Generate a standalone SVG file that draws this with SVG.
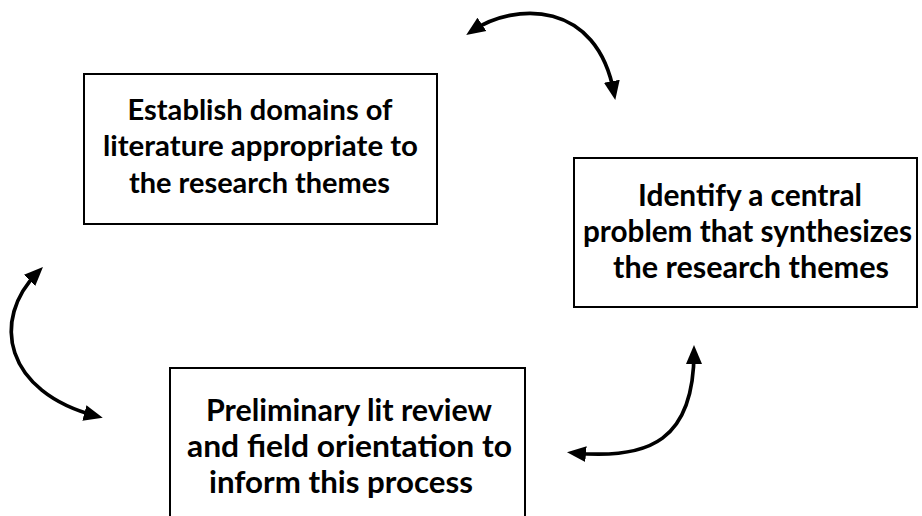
<svg xmlns="http://www.w3.org/2000/svg" width="922" height="516" viewBox="0 0 922 516">
<style>
.box{fill:#fff;stroke:#000;stroke-width:2}
.t{font-family:Lato,"Liberation Sans",sans-serif;font-weight:bold;font-size:29px;fill:#000;text-anchor:middle}
.t2{font-size:30px}
.c{fill:none;stroke:#000;stroke-width:3.7}
</style>
<defs>
<marker id="ah" markerUnits="userSpaceOnUse" markerWidth="20" markerHeight="18" refX="12" refY="8" orient="auto-start-reverse" viewBox="0 0 20 16">
<path d="M0,0 L19,8 L0,16 z" fill="#000"/>
</marker>
</defs>
<rect width="922" height="516" fill="#fff"/>
<g id="connectors">
<path class="c" d="M472,31 C515,2 597,0 614,93" marker-start="url(#ah)" marker-end="url(#ah)"/>
<path class="c" d="M38,272 C-10,320 5,392 96,416" marker-start="url(#ah)" marker-end="url(#ah)"/>
<path class="c" d="M694,352 C694,440 650,460 574,453" marker-start="url(#ah)" marker-end="url(#ah)"/>
</g>
<g id="node1">
<rect class="box" x="84" y="74" width="353" height="150"/>
<text class="t" x="260" y="120" textLength="265" lengthAdjust="spacingAndGlyphs">Establish domains of</text>
<text class="t" x="260.5" y="156" textLength="315" lengthAdjust="spacingAndGlyphs">literature appropriate to</text>
<text class="t" x="259.5" y="193" textLength="261" lengthAdjust="spacingAndGlyphs">the research themes</text>
</g>
<g id="node2">
<rect class="box" x="574" y="158" width="343" height="149"/>
<text class="t t2" x="750" y="206" textLength="224" lengthAdjust="spacingAndGlyphs">Identify a central</text>
<text class="t t2" x="747.5" y="242" textLength="329" lengthAdjust="spacingAndGlyphs">problem that synthesizes</text>
<text class="t t2" x="751" y="278" textLength="276" lengthAdjust="spacingAndGlyphs">the research themes</text>
</g>
<g id="node3">
<rect class="box" x="170" y="368" width="355" height="160"/>
<text class="t t2" x="349" y="421" textLength="286" lengthAdjust="spacingAndGlyphs">Preliminary lit review</text>
<text class="t t2" x="349.5" y="457" textLength="325" lengthAdjust="spacingAndGlyphs">and field orientation to</text>
<text class="t t2" x="341" y="493" textLength="264" lengthAdjust="spacingAndGlyphs">inform this process</text>
</g>
</svg>
